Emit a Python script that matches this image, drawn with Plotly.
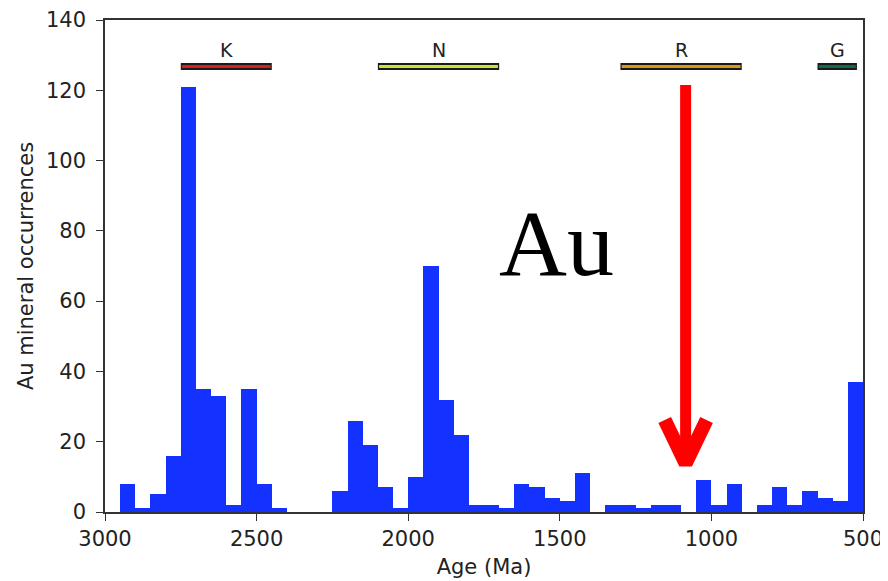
import plotly.graph_objects as go

# ---- data ----
bin_left = list(range(3000, 500, -50))  # 3000, 2950, ..., 550 (bin upper age)
counts = [0, 8, 1, 5, 16, 121, 35, 33, 2, 35,
          8, 1, 0, 0, 0, 6, 26, 19, 7, 1,
          10, 70, 32, 22, 2, 2, 1, 8, 7, 4,
          3, 11, 0, 2, 2, 1, 2, 2, 0, 9,
          2, 8, 0, 2, 7, 2, 6, 4, 3, 37]
bin_width = 50

period_names = ["K", "N", "R", "G"]
period_start = [2750, 2100, 1300, 650]
period_end = [2450, 1700, 900, 520]
period_colors = ["#d81e1e", "#c8e62e", "#d99a12", "#0e6b50"]
period_level = 126.8

x_ticks = [3000, 2500, 2000, 1500, 1000, 500]
y_ticks = [0, 20, 40, 60, 80, 100, 120, 140]

arrow_age = 1085
arrow_top = 121.5
arrow_tip = 13.8
arrow_arm_dx = 69
arrow_arm_y = 26.2

label_text = "Au"
label_age = 1512
label_y = 76.5

centers = [b - bin_width / 2 for b in bin_left]

fig = go.Figure()
fig.add_trace(go.Bar(x=centers, y=counts, width=bin_width,
                     marker=dict(color="#1432ff", line=dict(width=0)),
                     showlegend=False, hoverinfo="skip"))

for name, s, e, c in zip(period_names, period_start, period_end, period_colors):
    fig.add_trace(go.Scatter(x=[s, e], y=[period_level, period_level], mode="lines",
                             line=dict(color="#1a1a1a", width=7), showlegend=False,
                             hoverinfo="skip"))
    fig.add_trace(go.Scatter(x=[s - 4, e + 4], y=[period_level, period_level], mode="lines",
                             line=dict(color=c, width=3), showlegend=False,
                             hoverinfo="skip"))
    fig.add_annotation(x=(s + e) / 2, y=period_level + 1.0, text=name, showarrow=False,
                       yanchor="bottom", font=dict(family="DejaVu Sans", size=19, color="#222"))

# arrow
fig.add_trace(go.Scatter(x=[arrow_age, arrow_age], y=[arrow_top, arrow_tip + 2], mode="lines",
                         line=dict(color="#ff0000", width=11), showlegend=False, hoverinfo="skip"))
fig.add_trace(go.Scatter(x=[arrow_age - arrow_arm_dx, arrow_age, arrow_age + arrow_arm_dx],
                         y=[arrow_arm_y, arrow_tip, arrow_arm_y], mode="lines",
                         line=dict(color="#ff0000", width=14), showlegend=False, hoverinfo="skip"))

fig.add_annotation(x=label_age, y=label_y, text=label_text, showarrow=False,
                   xanchor="center", yanchor="middle",
                   font=dict(family="Liberation Serif", size=94, color="#000"))

axis_font = dict(family="DejaVu Sans", size=21, color="#222")
# page body has an 8px margin, so the figure is offset by 8px
fig.update_layout(
    width=880, height=573,
    margin=dict(l=97, r=25, t=12, b=69),
    paper_bgcolor="white", plot_bgcolor="white",
    bargap=0,
    font=axis_font,
    xaxis=dict(range=[3000, 500], tickvals=x_ticks, ticks="outside", ticklen=7,
               tickcolor="#333", showline=True, linecolor="#333", linewidth=1.5,
               mirror=True, showgrid=False, zeroline=False, tickfont=axis_font,
               automargin=False,
               title=dict(text="Age (Ma)", font=axis_font, standoff=9)),
    yaxis=dict(range=[0, 140], tickvals=y_ticks, ticks="outside", ticklen=7,
               tickcolor="#333", showline=True, linecolor="#333", linewidth=1.5,
               mirror=True, showgrid=False, zeroline=False, tickfont=axis_font,
               ticklabelstandoff=6, automargin=False,
               title=dict(text="Au mineral occurrences", font=axis_font, standoff=7)),
)

fig.write_html("out.html")
